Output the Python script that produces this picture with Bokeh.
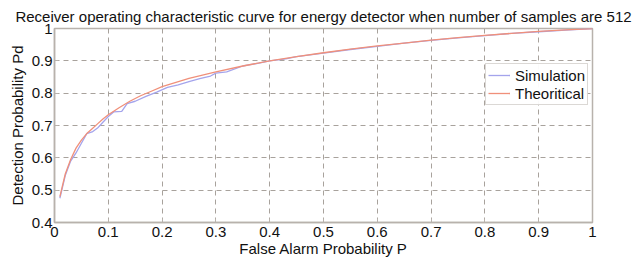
from bokeh.plotting import figure
from bokeh.models import Legend, LegendItem, FixedTicker, Range1d, Label
from bokeh.embed import file_html
from bokeh.resources import INLINE

# Data
pf_theory = [0.01, 0.02, 0.03, 0.04, 0.05, 0.06, 0.07, 0.08, 0.09, 0.10,
             0.12, 0.14, 0.16, 0.18, 0.20, 0.25, 0.30, 0.35, 0.40, 0.45,
             0.50, 0.55, 0.60, 0.65, 0.70, 0.75, 0.80, 0.85, 0.90, 0.95, 1.0]
pd_theory = [0.48, 0.55, 0.595, 0.63, 0.655, 0.675, 0.69, 0.705, 0.72, 0.733,
             0.755, 0.775, 0.792, 0.806, 0.82, 0.846, 0.866, 0.884, 0.90, 0.913,
             0.925, 0.936, 0.946, 0.955, 0.964, 0.972, 0.979, 0.985, 0.991, 0.996, 1.0]
pf_sim = [0.01, 0.02, 0.03, 0.04, 0.05, 0.06, 0.07, 0.08, 0.09, 0.10,
          0.11, 0.125, 0.135, 0.15, 0.17, 0.19, 0.21, 0.23, 0.25, 0.27,
          0.29, 0.30, 0.32, 0.35, 0.38, 0.40, 0.43, 0.45, 0.50, 0.55,
          0.60, 0.65, 0.70, 0.75, 0.80, 0.85, 0.90, 0.95, 1.0]
pd_sim = [0.475, 0.545, 0.59, 0.615, 0.645, 0.675, 0.68, 0.692, 0.71, 0.728,
          0.742, 0.744, 0.768, 0.775, 0.79, 0.803, 0.818, 0.826, 0.836, 0.845,
          0.853, 0.862, 0.866, 0.884, 0.893, 0.90, 0.906, 0.913, 0.924, 0.935,
          0.945, 0.955, 0.963, 0.971, 0.978, 0.985, 0.99, 0.995, 1.0]
x_ticks = [0, 0.1, 0.2, 0.3, 0.4, 0.5, 0.6, 0.7, 0.8, 0.9, 1]
y_ticks = [0.4, 0.5, 0.6, 0.7, 0.8, 0.9, 1]

FONT = "Liberation Sans"
GRAY = "#b8b2ac"
TXT = "#111111"

p = figure(width=636, height=262, output_backend="svg", toolbar_location=None,
           x_range=Range1d(0, 1), y_range=Range1d(0.4, 1),
           min_border_left=54, min_border_right=44, min_border_top=28,
           min_border_bottom=40,
           title="Receiver operating characteristic curve for energy detector when number of samples are 512")
p.title.text_font = FONT
p.title.text_font_size = "15px"
p.title.text_font_style = "normal"
p.title.align = "center"
p.title.text_color = TXT
p.title.standoff = 8

p.outline_line_color = GRAY
p.outline_line_width = 1.5

for ax in (p.xaxis[0], p.yaxis[0]):
    ax.axis_line_color = GRAY
    ax.axis_line_width = 1.5
    ax.major_tick_line_color = GRAY
    ax.major_tick_out = 0
    ax.major_tick_in = 4
    ax.minor_tick_line_color = None
    ax.major_label_text_font = FONT
    ax.major_label_text_font_size = "15px"
    ax.major_label_text_color = TXT
    ax.axis_label_text_font = FONT
    ax.axis_label_text_font_size = "15px"
    ax.axis_label_text_font_style = "normal"
    ax.axis_label_text_color = TXT

p.xaxis.ticker = FixedTicker(ticks=x_ticks)
p.yaxis.ticker = FixedTicker(ticks=y_ticks)
p.xaxis.major_label_overrides = {1: "1", 0: "0"}
p.yaxis.major_label_overrides = {1: "1"}
p.xaxis.major_label_standoff = 4
p.yaxis.major_label_standoff = 2
p.xaxis.axis_label = "False Alarm Probability P"
p.xaxis.axis_label_standoff = 0
p.yaxis.axis_label = "Detection Probability Pd"
p.yaxis.axis_label_standoff = 3

# subscript f of P_f
p.add_layout(Label(x=0.658, y=0.2948, text="f",
                   text_align="left", text_baseline="alphabetic",
                   text_font=FONT, text_font_size="11px", text_color=TXT))

p.xgrid.ticker = FixedTicker(ticks=x_ticks)
p.ygrid.ticker = FixedTicker(ticks=y_ticks)
for g in (p.xgrid[0], p.ygrid[0]):
    g.grid_line_color = "#a8a29c"
    g.grid_line_dash = "5 4"
    g.grid_line_width = 1

r_sim = p.line(pf_sim, pd_sim, line_color="#a4a4ec", line_width=1.3)
r_th = p.line(pf_theory, pd_theory, line_color="#f0907a", line_width=1.3)

legend = Legend(items=[LegendItem(label="Simulation", renderers=[r_sim]),
                       LegendItem(label="Theoritical", renderers=[r_th])],
                location=(431, 117))
legend.label_text_font = FONT
legend.label_text_font_size = "15px"
legend.label_text_color = TXT
legend.border_line_color = GRAY
legend.border_line_width = 1.5
legend.padding = 2
legend.spacing = 0
legend.margin = 0
legend.glyph_width = 22
legend.glyph_height = 18
legend.label_height = 18
legend.label_standoff = 5
p.add_layout(legend, "center")

open("out.html", "w").write(file_html(p, INLINE))
